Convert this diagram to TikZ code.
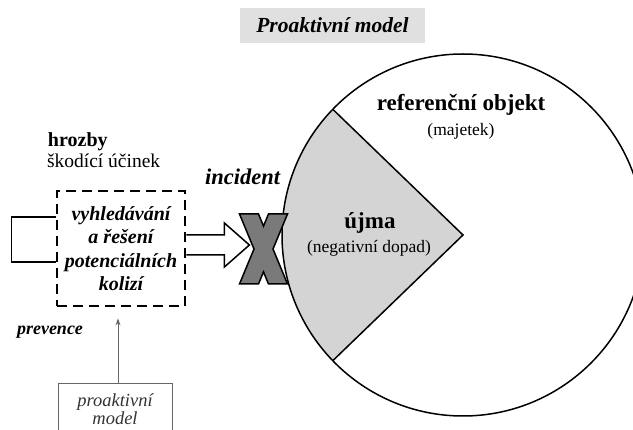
\documentclass[tikz,border=0pt]{standalone}
\usepackage{fontspec}
\setmainfont{Liberation Serif}
\usetikzlibrary{arrows.meta}
\definecolor{titlegray}{HTML}{E0E0E0}
\definecolor{sectorgray}{HTML}{D4D4D4}
\definecolor{xgray}{HTML}{7A7A7A}
\definecolor{softgray}{HTML}{666666}
\tikzset{
  txt/.style={inner sep=0pt, outer sep=0pt},
}
\begin{document}
\begin{tikzpicture}[x=1pt,y=-1pt]
\useasboundingbox (0,0) rectangle (633,430);
\clip (0,0) rectangle (633,430);

% title
\node[fill=titlegray, minimum width=185, minimum height=35, inner sep=0pt,
      font=\fontsize{21.5}{21.5}\selectfont\bfseries\itshape] (title) at (332.5,25.5) {Proaktivní model};

% circle with sector
\coordinate (c) at (463,235);
\begin{scope}
  \clip (c) circle[radius=181];
  \fill[sectorgray] (c) -- (267.7,46.5) -- (150,46.5) -- (150,424) -- (267.7,423.5) -- cycle;
\end{scope}
\node[circle, draw, line width=1.5pt, minimum size=362, inner sep=0pt] (obj) at (c) {};
\draw[line width=1.5pt] (332.8,109.3) -- (c) -- (332.8,360.7);

\node[txt, font=\fontsize{23}{23}\selectfont\bfseries] (ref) at (461,105) {referenční objekt};
\node[txt, font=\fontsize{17.5}{17.5}\selectfont] (maj) at (461,131) {(majetek)};
\node[txt, font=\fontsize{23}{23}\selectfont\bfseries] (ujma) at (370,223) {újma};
\node[txt, font=\fontsize{17.5}{17.5}\selectfont] (neg) at (369,248) {(negativní dopad)};

% threats
\node[txt, anchor=base west, font=\fontsize{20}{20}\selectfont\bfseries] (hro) at (48,147) {hrozby};
\node[txt, anchor=base west, font=\fontsize{19.5}{19.5}\selectfont] (sko) at (47,168) {škodící účinek};
\node[txt, anchor=base west, font=\fontsize{22.5}{22.5}\selectfont\bfseries\itshape] (inc) at (205,185) {incident};

% dashed box
\node[draw, line width=2.8pt, dash pattern=on 10pt off 6pt, minimum width=128, minimum height=115,
      inner sep=0pt, align=center,
      font=\fontsize{20}{23.5}\selectfont\bfseries\itshape] (box) at (121,248.5)
      {vyhledávání\\a řešení\\potenciálních\\kolizí};

% feedback loop
\draw[line width=1.5pt] (box.west |- 0,217) -- ++(-44,0) |- (box.west |- 0,262);

% hollow block arrow
\coordinate (ae) at (box.east |- 0,244);
\draw[line width=1.5pt, fill=white, line join=miter]
  (ae) ++(0,-9) -- ++(38,0) -- ++(0,-12) -- ++(25,22) -- ++(-25,22) -- ++(0,-12) -- ++(-38,0);

% X mark
\coordinate (xm) at (263.5,249);
\draw[fill=xgray, line width=1.5pt, line join=miter, shift={(xm)}]
  (-24,-35) -- (-5,-35) -- (0,-22.9) -- (5,-35) -- (24,-35) -- (9.5,0)
  -- (24,35) -- (5,35) -- (0,22.9) -- (-5,35) -- (-24,35) -- (-9.5,0) -- cycle;

% prevence
\node[txt, font=\fontsize{18}{18}\selectfont\bfseries\itshape] (prev) at (50,332) {prevence};

% proaktivni model box
\node[draw=softgray, line width=0.9pt, minimum width=114, minimum height=52, inner sep=0pt,
      anchor=north, align=center, text=black!80,
      font=\fontsize{18.5}{18}\selectfont\itshape] (pm) at (115,383) {proaktivní\\model};
\draw[softgray, line width=0.9pt, -{Stealth[length=7pt,width=5pt]}, shorten >=11pt]
  (pm.north -| 118,0) -- (box.south -| 118,0);
\end{tikzpicture}
\end{document}
